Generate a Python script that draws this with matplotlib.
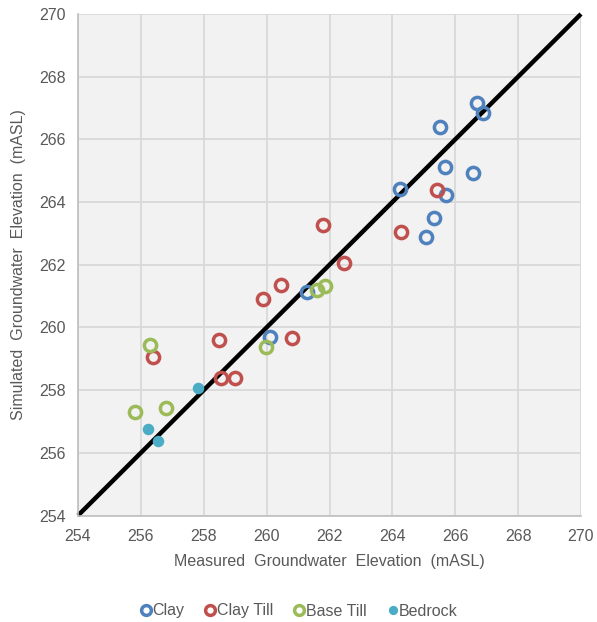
import numpy as np
import matplotlib
matplotlib.use('Agg')
import matplotlib.pyplot as plt

plt.rcParams['font.family'] = ['Liberation Sans', 'DejaVu Sans']

# Measured vs simulated groundwater elevations (mASL)
clay_meas = [266.68, 266.87, 265.50, 265.66, 266.55, 265.72, 264.25, 265.31, 265.08, 261.27, 260.12]
clay_sim = [267.16, 266.84, 266.39, 265.11, 264.92, 264.22, 264.41, 263.48, 262.88, 261.13, 259.69]

claytill_meas = [265.43, 264.27, 261.80, 262.46, 260.45, 259.90, 258.48, 260.82, 258.56, 258.98, 256.40]
claytill_sim = [264.38, 263.05, 263.27, 262.07, 261.34, 260.91, 259.61, 259.66, 258.38, 258.38, 259.06]

basetill_meas = [261.61, 261.86, 259.99, 256.30, 255.81, 256.79]
basetill_sim = [261.18, 261.31, 259.37, 259.45, 257.30, 257.44]

bedrock_meas = [257.81, 256.24, 256.53]
bedrock_sim = [258.06, 256.75, 256.39]

axis_min, axis_max = 254, 270
ticks = np.arange(axis_min, axis_max + 1, 2)

fig = plt.figure(figsize=(5.97, 6.22), dpi=100)
ax = fig.add_axes([78 / 597, (622 - 515.5) / 622, 503 / 597, 501.5 / 622])
ax.set_facecolor('#F2F2F2')

# 1:1 line
ax.plot([axis_min, axis_max], [axis_min, axis_max], color='black', lw=3.2, zorder=2,
        solid_capstyle='butt', clip_on=False)

hollow = dict(ls='none', marker='o', markersize=8.8, markerfacecolor='none', markeredgewidth=2.5, zorder=3)
ax.plot(clay_meas, clay_sim, markeredgecolor='#4F81BD', label='Clay', **hollow)
ax.plot(claytill_meas, claytill_sim, markeredgecolor='#C0504D', label='Clay Till', **hollow)
ax.plot(basetill_meas, basetill_sim, markeredgecolor='#9BBB59', label='Base Till', **hollow)
ax.plot(bedrock_meas, bedrock_sim, ls='none', marker='o', markersize=8.3, color='#4BACC6',
        markeredgewidth=0, label='Bedrock', zorder=3)

ax.set_xlim(axis_min, axis_max)
ax.set_ylim(axis_min, axis_max)
ax.set_xticks(ticks)
ax.set_yticks(ticks)
ax.grid(True, color='#D9D9D9', lw=1.3)
ax.set_axisbelow(True)
ax.tick_params(length=0, labelsize=11.5, labelcolor='#595959')
ax.tick_params(axis='x', pad=10)
ax.tick_params(axis='y', pad=9)

for s in ['top', 'right']:
    ax.spines[s].set_visible(False)
for s in ['left', 'bottom']:
    ax.spines[s].set_color('#BFBFBF')
    ax.spines[s].set_linewidth(1.2)

ax.set_xlabel('Measured  Groundwater  Elevation  (mASL)', fontsize=11.5, color='#595959', labelpad=7)
ax.set_ylabel('Simulated  Groundwater  Elevation  (mASL)', fontsize=11.5, color='#595959', labelpad=9)

fig.legend(loc='center', bbox_to_anchor=(0.5, 1 - 611 / 622), ncol=4, frameon=False,
           fontsize=11.5, labelcolor='#595959', handletextpad=0.0, columnspacing=1.25,
           handlelength=0.8, markerscale=0.8)

fig.savefig('out.png', dpi=100, facecolor='white')
